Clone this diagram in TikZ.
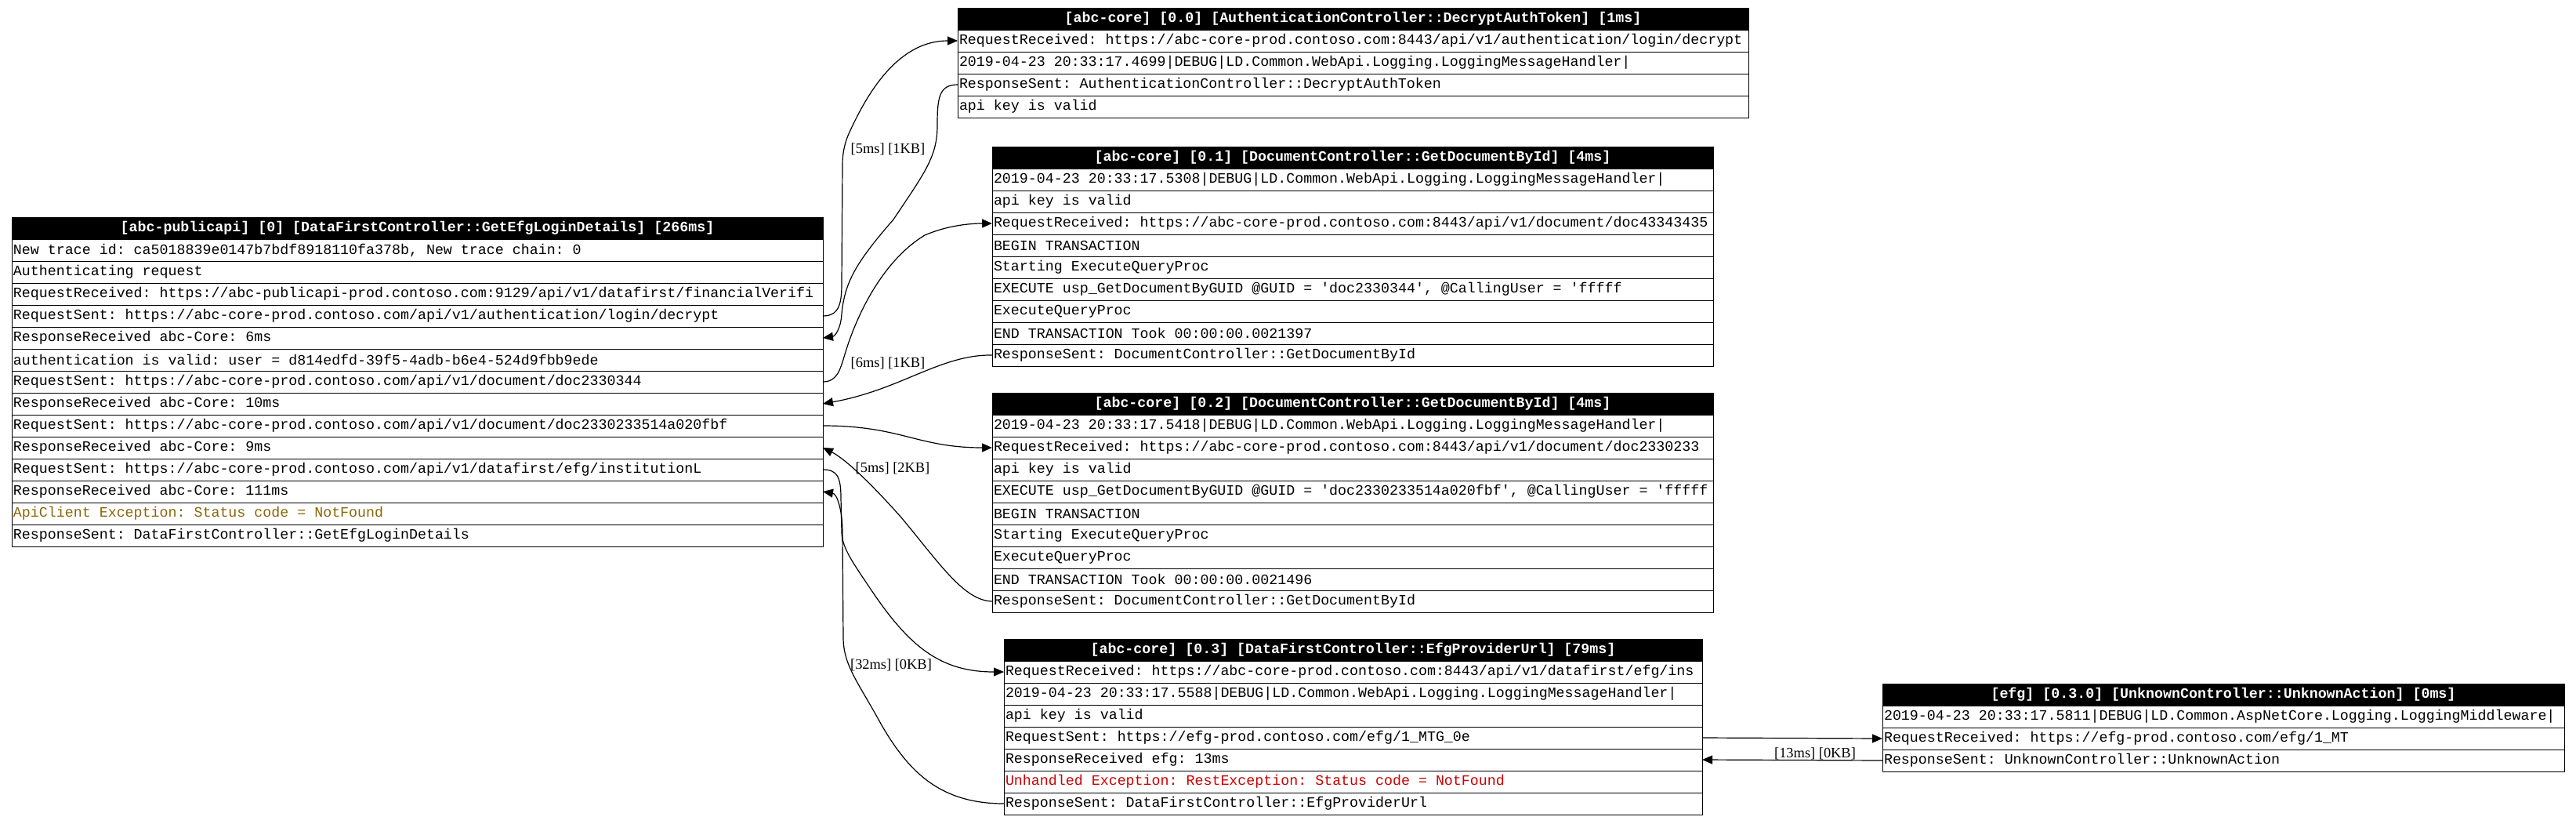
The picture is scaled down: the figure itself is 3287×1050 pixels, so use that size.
\documentclass[tikz,border=0pt]{standalone}
\usepackage{fontspec}
\setmainfont{Liberation Serif}
\setmonofont{Liberation Mono}
\usetikzlibrary{arrows.meta}
\definecolor{apiolive}{HTML}{8B6508}
\definecolor{errred}{HTML}{CC0000}
\newcommand\myrowfont{\ttfamily\fontsize{9.15pt}{10pt}\selectfont\frenchspacing\spaceskip=\fontcharwd\font`0\relax\xspaceskip=\spaceskip}
\newcommand\myhdrfont{\ttfamily\bfseries\fontsize{9.15pt}{10pt}\selectfont\frenchspacing\spaceskip=\fontcharwd\font`0\relax\xspaceskip=\spaceskip}
\newcommand\mylabfont{\rmfamily\fontsize{9.2pt}{10pt}\selectfont}
\tikzset{
  rowb/.style={draw=black, line width=0.5pt, fill=white, minimum height=14pt, inner xsep=1pt, inner ysep=0pt, outer sep=0pt, align=flush left, font=\myrowfont, anchor=north},
  hdr/.style={draw=black, fill=black, text=white, line width=0.5pt, minimum height=14pt, inner xsep=1pt, inner ysep=0pt, outer sep=0pt, align=flush center, font=\myhdrfont, anchor=north west},
  edge/.style={draw=black, line width=0.6pt, -{Triangle[length=6.5pt,width=5.5pt]}},
  elabel/.style={font=\mylabfont, inner sep=0pt},
  wL/.style={text width=515.5pt},
  wA/.style={text width=502.5pt},
  wB/.style={text width=458pt},
  wD/.style={text width=443.5pt},
  wE/.style={text width=433pt}
}
\begin{document}
\begin{tikzpicture}[x=0.5pt,y=-0.5pt]
\fill[white] (0,0) rectangle (3287,1050);
\useasboundingbox (0,0) rectangle (3287,1050);

% ---- left box
\node[hdr, wL] (L0) at (15,277) {\mbox{[abc-publicapi] [0] [DataFirstController::GetEfgLoginDetails] [266ms]}};
\node[rowb, wL] (L1) at (L0.south) {\mbox{New trace id: ca5018839e0147b7bdf8918110fa378b, New trace chain: 0}};
\node[rowb, wL] (L2) at (L1.south) {\mbox{Authenticating request}};
\node[rowb, wL] (L3) at (L2.south) {\mbox{RequestReceived: https://abc-publicapi-prod.contoso.com:9129/api/v1/datafirst/financialVerifi}};
\node[rowb, wL] (L4) at (L3.south) {\mbox{RequestSent: https://abc-core-prod.contoso.com/api/v1/authentication/login/decrypt}};
\node[rowb, wL] (L5) at (L4.south) {\mbox{ResponseReceived abc-Core: 6ms}};
\node[rowb, wL] (L6) at (L5.south) {\mbox{authentication is valid: user = d814edfd-39f5-4adb-b6e4-524d9fbb9ede}};
\node[rowb, wL] (L7) at (L6.south) {\mbox{RequestSent: https://abc-core-prod.contoso.com/api/v1/document/doc2330344}};
\node[rowb, wL] (L8) at (L7.south) {\mbox{ResponseReceived abc-Core: 10ms}};
\node[rowb, wL] (L9) at (L8.south) {\mbox{RequestSent: https://abc-core-prod.contoso.com/api/v1/document/doc2330233514a020fbf}};
\node[rowb, wL] (L10) at (L9.south) {\mbox{ResponseReceived abc-Core: 9ms}};
\node[rowb, wL] (L11) at (L10.south) {\mbox{RequestSent: https://abc-core-prod.contoso.com/api/v1/datafirst/efg/institutionL}};
\node[rowb, wL] (L12) at (L11.south) {\mbox{ResponseReceived abc-Core: 111ms}};
\node[rowb, wL, text=apiolive] (L13) at (L12.south) {\mbox{ApiClient Exception: Status code = NotFound}};
\node[rowb, wL] (L14) at (L13.south) {\mbox{ResponseSent: DataFirstController::GetEfgLoginDetails}};

% ---- box 0.0
\node[hdr, wA] (A0) at (1222,10) {\mbox{[abc-core] [0.0] [AuthenticationController::DecryptAuthToken] [1ms]}};
\node[rowb, wA] (A1) at (A0.south) {\mbox{RequestReceived: https://abc-core-prod.contoso.com:8443/api/v1/authentication/login/decrypt}};
\node[rowb, wA] (A2) at (A1.south) {\mbox{2019-04-23 20:33:17.4699|DEBUG|LD.Common.WebApi.Logging.LoggingMessageHandler|}};
\node[rowb, wA] (A3) at (A2.south) {\mbox{ResponseSent: AuthenticationController::DecryptAuthToken}};
\node[rowb, wA] (A4) at (A3.south) {\mbox{api key is valid}};

% ---- box 0.1
\node[hdr, wB] (B0) at (1266,187) {\mbox{[abc-core] [0.1] [DocumentController::GetDocumentById] [4ms]}};
\node[rowb, wB] (B1) at (B0.south) {\mbox{2019-04-23 20:33:17.5308|DEBUG|LD.Common.WebApi.Logging.LoggingMessageHandler|}};
\node[rowb, wB] (B2) at (B1.south) {\mbox{api key is valid}};
\node[rowb, wB] (B3) at (B2.south) {\mbox{RequestReceived: https://abc-core-prod.contoso.com:8443/api/v1/document/doc43343435}};
\node[rowb, wB] (B4) at (B3.south) {\mbox{BEGIN TRANSACTION}};
\node[rowb, wB] (B5) at (B4.south) {\mbox{Starting ExecuteQueryProc}};
\node[rowb, wB] (B6) at (B5.south) {\mbox{EXECUTE usp\_GetDocumentByGUID @GUID = 'doc2330344', @CallingUser = 'fffff}};
\node[rowb, wB] (B7) at (B6.south) {\mbox{ExecuteQueryProc}};
\node[rowb, wB] (B8) at (B7.south) {\mbox{END TRANSACTION Took 00:00:00.0021397}};
\node[rowb, wB] (B9) at (B8.south) {\mbox{ResponseSent: DocumentController::GetDocumentById}};

% ---- box 0.2
\node[hdr, wB] (C0) at (1266,501) {\mbox{[abc-core] [0.2] [DocumentController::GetDocumentById] [4ms]}};
\node[rowb, wB] (C1) at (C0.south) {\mbox{2019-04-23 20:33:17.5418|DEBUG|LD.Common.WebApi.Logging.LoggingMessageHandler|}};
\node[rowb, wB] (C2) at (C1.south) {\mbox{RequestReceived: https://abc-core-prod.contoso.com:8443/api/v1/document/doc2330233}};
\node[rowb, wB] (C3) at (C2.south) {\mbox{api key is valid}};
\node[rowb, wB] (C4) at (C3.south) {\mbox{EXECUTE usp\_GetDocumentByGUID @GUID = 'doc2330233514a020fbf', @CallingUser = 'fffff}};
\node[rowb, wB] (C5) at (C4.south) {\mbox{BEGIN TRANSACTION}};
\node[rowb, wB] (C6) at (C5.south) {\mbox{Starting ExecuteQueryProc}};
\node[rowb, wB] (C7) at (C6.south) {\mbox{ExecuteQueryProc}};
\node[rowb, wB] (C8) at (C7.south) {\mbox{END TRANSACTION Took 00:00:00.0021496}};
\node[rowb, wB] (C9) at (C8.south) {\mbox{ResponseSent: DocumentController::GetDocumentById}};

% ---- box 0.3
\node[hdr, wD] (D0) at (1281,815) {\mbox{[abc-core] [0.3] [DataFirstController::EfgProviderUrl] [79ms]}};
\node[rowb, wD] (D1) at (D0.south) {\mbox{RequestReceived: https://abc-core-prod.contoso.com:8443/api/v1/datafirst/efg/ins}};
\node[rowb, wD] (D2) at (D1.south) {\mbox{2019-04-23 20:33:17.5588|DEBUG|LD.Common.WebApi.Logging.LoggingMessageHandler|}};
\node[rowb, wD] (D3) at (D2.south) {\mbox{api key is valid}};
\node[rowb, wD] (D4) at (D3.south) {\mbox{RequestSent: https://efg-prod.contoso.com/efg/1\_MTG\_0e}};
\node[rowb, wD] (D5) at (D4.south) {\mbox{ResponseReceived efg: 13ms}};
\node[rowb, wD, text=errred] (D6) at (D5.south) {\mbox{Unhandled Exception: RestException: Status code = NotFound}};
\node[rowb, wD] (D7) at (D6.south) {\mbox{ResponseSent: DataFirstController::EfgProviderUrl}};

% ---- box efg
\node[hdr, wE] (E0) at (2402,872) {\mbox{[efg] [0.3.0] [UnknownController::UnknownAction] [0ms]}};
\node[rowb, wE] (E1) at (E0.south) {\mbox{2019-04-23 20:33:17.5811|DEBUG|LD.Common.AspNetCore.Logging.LoggingMiddleware|}};
\node[rowb, wE] (E2) at (E1.south) {\mbox{RequestReceived: https://efg-prod.contoso.com/efg/1\_MT}};
\node[rowb, wE] (E3) at (E2.south) {\mbox{ResponseSent: UnknownController::UnknownAction}};

% ---- edges
\draw[edge] (L4.east) .. controls (1072,403) and (1074,385) .. (1074,360) -- (1075,210) .. controls (1075,195) and (1078,183) .. (1082,173) .. controls (1110,110) and (1150,52) .. (A1.west);
\draw[edge] (A3.west) .. controls (1198,108) and (1196,125) .. (1196,160) .. controls (1196,200) and (1180,220) .. (1140,280) .. controls (1092,335) and (1078,360) .. (1074,400) .. controls (1073,420) and (1065,429) .. (L5.east);
\draw[edge] (L7.east) .. controls (1068,487) and (1072,472) .. (1078,452) .. controls (1095,395) and (1130,330) .. (1180,300) .. controls (1210,287) and (1240,285) .. (B3.west);
\draw[edge] (B9.west) .. controls (1200,452) and (1150,497) .. (L8.east);
\draw[edge] (L9.east) .. controls (1150,543) and (1170,571) .. (C2.west);
\draw[edge] (C9.west) .. controls (1230,766) and (1200,720) .. (1150,660) .. controls (1110,615) and (1078,585) .. (L10.east);
\draw[edge] (L11.east) .. controls (1068,599) and (1073,608) .. (1073,635) -- (1074,680) .. controls (1075,700) and (1090,720) .. (1110,750) .. controls (1160,825) and (1200,857) .. (D1.west);
\draw[edge] (D7.west) .. controls (1200,1025) and (1160,985) .. (1125,925) .. controls (1095,870) and (1077,850) .. (1076,815) -- (1075,680) .. controls (1075,650) and (1068,630) .. (L12.east);
\draw[edge] (D4.east) -- (E2.west);
\draw[edge] (E3.west) -- (D5.east);

% ---- edge labels
\node[elabel] (lab1) at (1133,190) {[5ms] [1KB]};
\node[elabel] (lab2) at (1133,463) {[6ms] [1KB]};
\node[elabel] (lab3) at (1139,597) {[5ms] [2KB]};
\node[elabel] (lab4) at (1137,848) {[32ms] [0KB]};
\node[elabel] (lab5) at (2316,961) {[13ms] [0KB]};
\end{tikzpicture}
\end{document}
